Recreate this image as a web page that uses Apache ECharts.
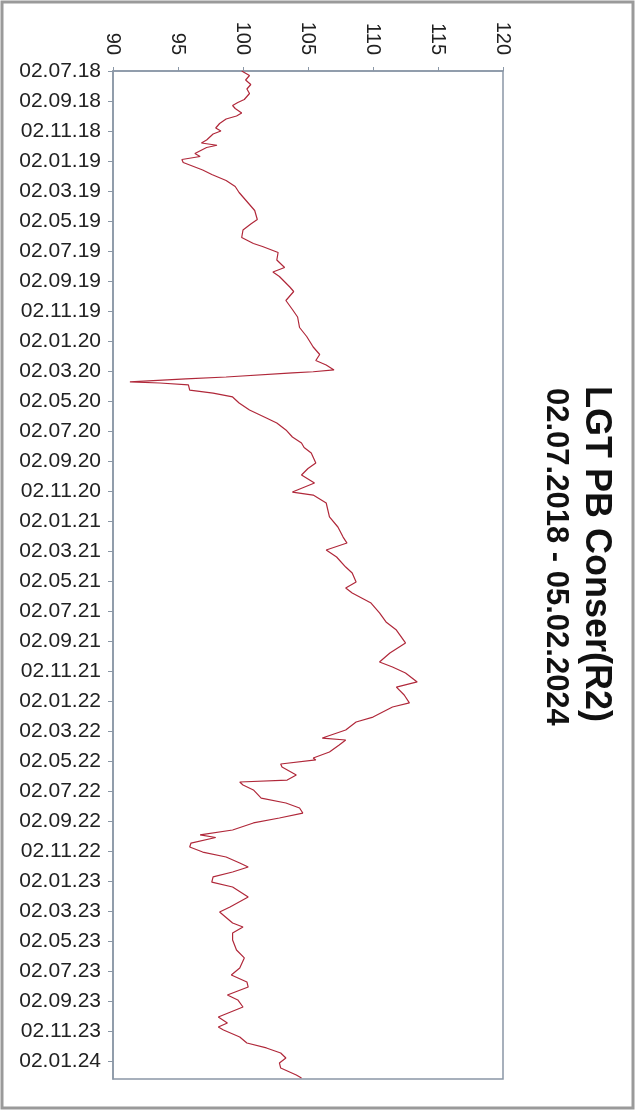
<!DOCTYPE html>
<html>
<head>
<meta charset="utf-8">
<script src="https://cdn.jsdelivr.net/npm/echarts@6/dist/echarts.min.js"></script>
<style>
html,body{margin:0;padding:0;background:#fff;}
#c{width:641px;height:1112px;}
</style>
</head>
<body>
<div id="c"></div>
<script>
// Time position in months since 02.07.2018 (vertical axis, downward)
var monthPos = [
  0.0,0.3,0.6,0.9,1.2,1.5,1.9,2.1,2.3,2.5,2.8,3.0,3.2,3.5,3.8,4.0,4.2,4.6,4.8,4.95,5.1,5.5,5.7,5.9,6.1,6.3,6.6,6.9,7.3,7.7,8.1,8.6,
  9.3,9.9,10.2,10.6,11.1,11.5,11.7,12.1,12.6,13.1,13.4,13.7,14.4,14.7,15.3,15.9,16.4,17.1,17.7,18.4,18.9,19.3,19.6,19.93,
  20.05,20.13,20.4,20.53,20.73,20.8,20.93,21.27,21.47,21.73,22.13,22.6,23.13,23.47,23.93,24.4,24.8,25.1,25.47,26.13,26.5,26.93,
  27.47,28.07,28.27,28.8,29.73,30.4,31.07,31.47,31.93,32.4,33.07,33.47,34.07,34.47,34.8,35.47,36.13,36.73,37.27,38.13,38.8,
  39.4,39.73,40.13,40.73,41.07,41.6,42.13,42.4,43.07,43.4,43.93,44.47,44.6,44.93,45.4,45.8,45.93,46.2,46.4,46.93,47.27,47.4,
  47.6,47.93,48.47,48.8,49.13,49.47,49.8,50.13,50.6,50.93,51.1,51.47,51.73,52.07,52.4,52.8,53.07,53.4,53.73,54.07,54.4,55.07,
  55.73,56.07,56.8,57.07,57.47,57.93,58.6,59.13,59.8,60.27,60.73,61.07,61.6,61.93,62.4,63.07,63.47,63.73,63.93,64.4,64.8,
  65.13,65.47,65.8,66.13,66.47,66.93,67.13
];
// Fund value (horizontal axis)
var navValues = [
  99.9,100.5,100.2,100.6,100.3,100.5,100.1,99.6,99.2,99.4,99.9,99.5,98.7,98.2,97.9,98.3,97.7,97.2,96.8,98.0,97.2,96.3,96.7,95.3,95.4,96.0,96.9,97.6,98.7,99.4,99.7,100.2,
  100.9,101.1,100.6,100.0,99.9,100.8,101.5,102.7,102.6,103.2,102.3,102.8,103.6,103.9,103.3,103.8,104.2,104.35,104.9,105.4,105.9,105.6,106.4,107.0,
  105.4,103.8,98.7,95.6,91.3,93.6,95.8,95.9,97.7,99.2,99.7,100.5,101.8,102.6,103.3,103.8,104.5,104.7,105.25,105.6,105.0,104.5,
  105.5,103.8,105.4,106.4,106.65,107.3,107.7,108.0,106.4,107.2,107.9,108.4,108.7,107.9,108.4,109.85,110.5,111.0,111.8,112.5,111.3,
  110.5,111.5,112.5,113.4,111.8,112.4,112.8,111.5,110.0,108.7,107.9,106.1,107.9,107.4,106.65,105.4,105.6,102.9,103.0,104.1,103.4,99.75,
  100.0,100.8,101.4,103.3,104.35,104.6,102.8,100.8,99.2,96.7,97.9,96.0,95.9,96.9,98.7,99.75,100.4,99.2,97.7,97.6,99.2,100.4,
  99.0,98.2,99.2,100.0,99.2,99.2,99.5,100.1,99.75,99.1,100.3,100.4,98.8,99.6,100.0,98.1,98.8,98.1,98.5,99.75,100.3,
  101.8,102.9,103.3,102.8,102.9,104.1,104.5
];
// Date tick labels, one per 2 months
var dateTicks = [
  '02.07.18','02.09.18','02.11.18','02.01.19','02.03.19','02.05.19','02.07.19','02.09.19','02.11.19',
  '02.01.20','02.03.20','02.05.20','02.07.20','02.09.20','02.11.20',
  '02.01.21','02.03.21','02.05.21','02.07.21','02.09.21','02.11.21',
  '02.01.22','02.03.22','02.05.22','02.07.22','02.09.22','02.11.22',
  '02.01.23','02.03.23','02.05.23','02.07.23','02.09.23','02.11.23',
  '02.01.24'
];
var valueTicks = [90, 95, 100, 105, 110, 115, 120];
var titleText = 'LGT PB Conser(R2)';
var subtitleText = '02.07.2018 - 05.02.2024';

var pts = monthPos.map(function (m, i) { return [navValues[i], m]; });
var font = 'Liberation Sans, Arial, Helvetica, sans-serif';
var axisCol = '#8a97a6';

var chart = echarts.init(document.getElementById('c'), null, {renderer: 'canvas'});
chart.setOption({
  backgroundColor: '#ffffff',
  animation: false,
  grid: {left: 113, right: 138, top: 71, bottom: 33, show: true, borderColor: axisCol, borderWidth: 1.5, backgroundColor: '#fff'},
  xAxis: {
    type: 'value', position: 'top',
    min: valueTicks[0], max: valueTicks[valueTicks.length - 1], interval: 5,
    axisLine: {show: true, lineStyle: {color: axisCol, width: 1.5}},
    axisTick: {show: true, inside: false, length: 4, lineStyle: {color: axisCol}},
    splitLine: {show: false},
    axisLabel: {rotate: -90, fontSize: 20, color: '#222', fontFamily: font, margin: 16}
  },
  yAxis: {
    type: 'value', inverse: true,
    min: 0, max: 67.2, interval: 2,
    axisLine: {show: true, lineStyle: {color: axisCol, width: 1.5}},
    axisTick: {show: true, inside: false, length: 5, lineStyle: {color: axisCol}},
    splitLine: {show: false},
    axisLabel: {
      fontSize: 21, color: '#222', fontFamily: font, margin: 12, showMaxLabel: false,
      formatter: function (v) {
        var k = Math.round(v / 2);
        if (Math.abs(v - k * 2) > 0.01) return '';
        return dateTicks[k] || '';
      }
    }
  },
  series: [{
    type: 'line', data: pts, showSymbol: false, smooth: false,
    lineStyle: {color: '#b0283a', width: 1.2}
  }],
  graphic: [
    {type: 'rect', shape: {x: 2, y: 2, width: 631, height: 1106}, style: {fill: 'none', stroke: '#9a9a9a', lineWidth: 3}, silent: true},
    {type: 'text', x: 596, y: 386, rotation: -Math.PI / 2,
      style: {text: titleText, font: 'bold 36px ' + font, fill: '#111', textAlign: 'left', textVerticalAlign: 'middle'}},
    {type: 'text', x: 556, y: 388, rotation: -Math.PI / 2,
      style: {text: subtitleText, font: 'bold 31px ' + font, fill: '#111', textAlign: 'left', textVerticalAlign: 'middle'}}
  ]
});
</script>
</body>
</html>
